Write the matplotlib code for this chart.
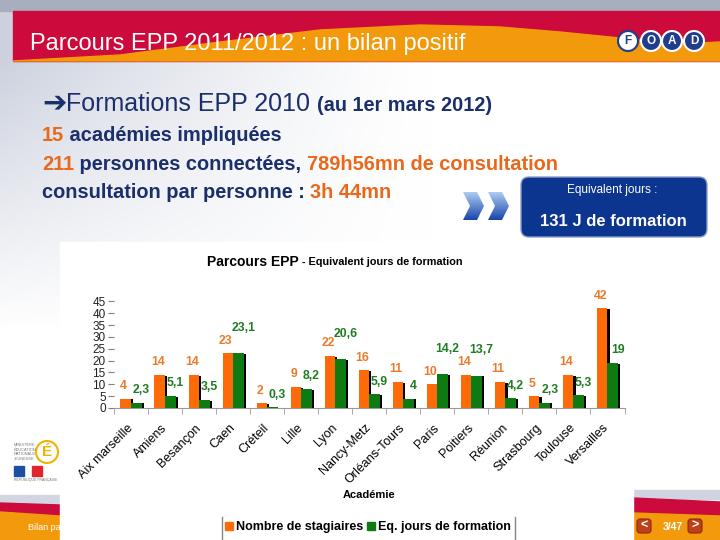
import matplotlib
matplotlib.use('Agg')
import matplotlib.pyplot as plt
import numpy as np
from matplotlib.patches import Rectangle, Polygon, FancyBboxPatch, Circle, Patch
from matplotlib.transforms import Bbox

# data
academies = ['Aix marseille', 'Amiens', 'Besançon', 'Caen', 'Créteil', 'Lille', 'Lyon',
             'Nancy-Metz', 'Orléans-Tours', 'Paris', 'Poitiers', 'Réunion', 'Strasbourg',
             'Toulouse', 'Versailles']
stagiaires = [4, 14, 14, 23, 2, 9, 22, 16, 11, 10, 14, 11, 5, 14, 42]
jours = [2.3, 5.1, 3.5, 23.1, 0.3, 8.2, 20.6, 5.9, 4, 14.2, 13.7, 4.2, 2.3, 5.3, 19]
y_ticks = [0, 5, 10, 15, 20, 25, 30, 35, 40, 45]
series_names = ['Nombre de stagiaires', 'Eq. jours de formation']

NAVY = '#1b2f6b'
ORANGE_TXT = '#e8681c'
BAR_ORANGE = '#ff6a08'
BAR_GREEN = '#0e7a12'
LBL_ORANGE = '#ec7a2a'
LBL_GREEN = '#1f7c21'
CRIMSON = '#cc0a3c'
BANNER_ORANGE = '#f39a0c'
LOGO_BLUE = '#1f3d8c'

plt.rcParams['font.family'] = ['Liberation Sans', 'DejaVu Sans']


def rich(ax, x, y, parts, **kw):
    # write coloured pieces of text one after the other on one line
    r = ax.figure.canvas.get_renderer()
    for s, color, size, weight in parts:
        t = ax.text(x, y, s, color=color, fontsize=size, fontweight=weight, **kw)
        x += t.get_window_extent(r).width


def fmt(v):
    return ('%g' % v).replace('.', ',')


def tight(ann, r):
    # box of the glyphs only, without the line spacing above and below
    bb = ann.get_window_extent(r)
    return Bbox.from_extents(bb.x0, bb.y0 + 2.5, bb.x1, bb.y1 - 2.5)


def main():
    fig = plt.figure(figsize=(7.2, 5.4), dpi=100)
    bg = fig.add_axes([0, 0, 1, 1])
    bg.set_xlim(0, 720)
    bg.set_ylim(540, 0)
    bg.axis('off')

    # slide background, greyish towards top left
    yy, xx = np.mgrid[0:540, 0:720]
    fade = np.clip((430 - xx) / 430, 0, 1) ** 1.3 * np.clip((330 - yy) / 270, 0, 1)
    gray = np.array([0.80, 0.82, 0.87])
    img = (1 - fade[..., None]) + gray * fade[..., None]
    bg.imshow(img, extent=(0, 720, 540, 0), aspect='auto', zorder=0)

    # header banner
    bg.add_patch(Rectangle((0, 0), 720, 11, color='#a9aebf', zorder=1))
    bg.add_patch(Rectangle((13, 11), 707, 50, color=CRIMSON, zorder=1))
    wave = [(13, 61), (120, 55), (220, 42), (320, 30), (420, 25), (500, 27), (560, 32),
            (620, 38), (680, 44), (720, 42), (720, 61)]
    bg.add_patch(Polygon(wave, closed=True, color=BANNER_ORANGE, zorder=1))
    bg.text(30, 44, 'Parcours EPP 2011/2012 : un bilan positif', color='white',
            fontsize=17, va='center', zorder=3)
    for k, (cx, letter) in enumerate(zip([628, 651, 672, 694], 'FOAD')):
        face, ink = ('white', LOGO_BLUE) if k == 0 else (LOGO_BLUE, 'white')
        bg.add_patch(Circle((cx, 41), 10, fc=face, ec=LOGO_BLUE if k == 0 else 'white', lw=1.5, zorder=3))
        bg.text(cx, 41.5, letter, color=ink, fontsize=8.5, fontweight='bold',
                ha='center', va='center', zorder=4)

    # text block
    rich(bg, 42, 111, [('➔', NAVY, 21, 'bold'), ('Formations EPP 2010 ', NAVY, 18, 'normal'),
                       ('(au 1er mars 2012)', NAVY, 14.3, 'bold')], zorder=3)
    rich(bg, 42, 141, [('15', ORANGE_TXT, 14.4, 'bold'), (' académies impliquées', NAVY, 14.4, 'bold')],
         zorder=3)
    rich(bg, 42, 170, [('211', ORANGE_TXT, 14.4, 'bold'), (' personnes connectées, ', NAVY, 14.4, 'bold'),
                       ('789h56mn de consultation', ORANGE_TXT, 14.4, 'bold')], zorder=3)
    rich(bg, 42, 198, [('consultation par personne : ', NAVY, 14.4, 'bold'),
                       ('3h 44mn', ORANGE_TXT, 14.4, 'bold')], zorder=3)

    # chevrons with a light to dark blue gradient
    grad = np.linspace(0, 1, 64)[:, None, None]
    chev_img = (1 - grad) * np.array([0.68, 0.80, 0.95]) + grad * np.array([0.10, 0.27, 0.66])
    chev_img = np.repeat(chev_img, 2, axis=1)
    for x0 in [463, 488]:
        pts = [(x0, 192), (x0 + 14, 192), (x0 + 21, 206), (x0 + 14, 220), (x0, 220), (x0 + 7, 206)]
        poly = Polygon(pts, closed=True, fc='none', ec='none', zorder=3)
        bg.add_patch(poly)
        im = bg.imshow(chev_img, extent=(x0, x0 + 22, 220, 192), aspect='auto', zorder=3)
        im.set_clip_path(poly)
    bg.set_xlim(0, 720)
    bg.set_ylim(540, 0)

    bg.add_patch(FancyBboxPatch((521, 177), 186, 60, boxstyle='round,pad=0,rounding_size=8',
                                fc='#0c3590', ec='#8a9cc8', lw=1, zorder=3))
    bg.text(612, 190, 'Equivalent jours :', color='white', fontsize=8.5, ha='center',
            va='center', zorder=4)
    bg.text(613, 221, '131 J de formation', color='white', fontsize=12, fontweight='bold',
            ha='center', va='center', zorder=4)

    # left logos
    bg.add_patch(Circle((47, 452), 11, fc='none', ec='#f0b400', lw=1.5, zorder=3))
    bg.text(47, 452, 'É', color='#f0b400', fontsize=11, fontweight='bold', ha='center',
            va='center', zorder=4)
    bg.text(14, 452, 'MINISTÈRE\nÉDUCATION\nNATIONALE\nJEUNESSE', color='#777777', fontsize=2.8,
            va='center', zorder=4, linespacing=1.2)
    bg.add_patch(Rectangle((14, 466), 10, 10, color='#1d4fa0', zorder=3))
    bg.add_patch(Rectangle((32, 466), 10, 10, color='#e0242c', zorder=3))
    bg.text(14, 481, 'RÉPUBLIQUE FRANÇAISE', color='#777777', fontsize=2.5, zorder=4)

    # footers
    bg.add_patch(Rectangle((0, 495), 60, 10, color='#d2d6e2', zorder=1))
    bg.add_patch(Polygon([(0, 503), (60, 505), (60, 516), (0, 512)], closed=True, color=CRIMSON, zorder=1))
    bg.add_patch(Polygon([(0, 512), (60, 516), (60, 540), (0, 540)], closed=True, color=BANNER_ORANGE, zorder=1))
    bg.text(28, 528, 'Bilan pa', color='white', fontsize=6.5, va='center', zorder=2)
    bg.add_patch(Rectangle((633, 490), 87, 9, color='#cfd4e0', zorder=1))
    bg.add_patch(Polygon([(633, 498), (720, 502), (720, 516), (633, 513)], closed=True, color=CRIMSON, zorder=1))
    bg.add_patch(Polygon([(633, 513), (720, 516), (720, 540), (633, 540)], closed=True, color=BANNER_ORANGE, zorder=1))
    for bx, s in [(637, '<'), (688, '>')]:
        bg.add_patch(FancyBboxPatch((bx, 519), 14, 14, boxstyle='round,pad=0,rounding_size=3',
                                    fc='#c0401a', ec='#8a2a10', lw=0.8, zorder=3))
        bg.text(bx + 7, 526, s, color='white', fontsize=9, fontweight='bold', ha='center',
                va='center', zorder=4)
    bg.text(673, 527, '3/47', color='white', fontsize=7.5, fontweight='bold', ha='center',
            va='center', zorder=4)

    # white chart panel
    bg.add_patch(Rectangle((60, 242), 573, 300, color='white', zorder=2))
    rich(bg, 207, 262, [('Parcours EPP', 'black', 10, 'bold'),
                        (' - Equivalent jours de formation', 'black', 7.8, 'bold')],
         va='center', zorder=3)
    bg.text(369, 495, 'Académie', color='black', fontsize=8, fontweight='bold', ha='center',
            va='center', zorder=3)

    # chart
    ax = fig.add_axes([114 / 720, 132 / 540, 510.5 / 720, 106.7 / 540], zorder=5)
    ax.patch.set_alpha(0)
    x = np.arange(len(academies))
    w = 0.31
    dx = 0.065
    st = np.array(stagiaires, dtype=float)
    jr = np.array(jours, dtype=float)
    ax.bar(x - w / 2 + dx, np.clip(st - 0.4, 0, None), w, color='black', zorder=1)
    ax.bar(x - w / 2, st, w, color=BAR_ORANGE, zorder=2)
    ax.bar(x + w / 2 + dx, np.clip(jr - 0.4, 0, None), w, color='black', zorder=3)
    ax.bar(x + w / 2, jr, w, color=BAR_GREEN, zorder=4)

    # orange labels first, green ones after so these get moved on a clash
    labels = []
    for i in range(len(academies)):
        labels.append(ax.annotate(fmt(st[i]), (x[i] - w / 2, st[i]), xytext=(-2, 12.5),
                                  textcoords='offset pixels', ha='center', va='center',
                                  color=LBL_ORANGE, fontsize=8.8, fontweight='bold',
                                  annotation_clip=False))
    for i in range(len(academies)):
        labels.append(ax.annotate(fmt(jr[i]), (x[i] + w / 2, jr[i]), xytext=(5, 12.5),
                                  textcoords='offset pixels', ha='center', va='center',
                                  color=LBL_GREEN, fontsize=8.8, fontweight='bold',
                                  annotation_clip=False))

    ax.set_xlim(-0.5, len(academies) - 0.5)
    ax.set_ylim(0, 45)
    ax.set_yticks(y_ticks)
    ax.set_xticks(x)
    ax.set_xticklabels(academies, rotation=45, ha='right', va='center', rotation_mode='anchor',
                       fontsize=9)
    ax.set_xticks(np.arange(len(academies) + 1) - 0.5, minor=True)
    ax.tick_params(axis='x', which='major', length=0, pad=13)
    ax.tick_params(axis='x', which='minor', length=4, color='#9a9a9a')
    ax.tick_params(axis='y', length=4, color='#7f7f7f', labelsize=8.5, pad=2, labelcolor='#222222')
    for side in ['left', 'top', 'right']:
        ax.spines[side].set_visible(False)
    ax.spines['bottom'].set_color('#9a9a9a')

    # push a value label up when it would sit on top of one already placed
    r = fig.canvas.get_renderer()
    placed = []
    for ann in labels:
        while any(tight(ann, r).overlaps(p) for p in placed):
            ox, oy = ann.xyann
            ann.xyann = (ox, oy + 13)
        placed.append(tight(ann, r))

    # legend box shows only its side edges, the rest is cut by the slide
    handles = [Patch(color=BAR_ORANGE), Patch(color=BAR_GREEN)]
    fig.legend(handles, series_names, loc='center', bbox_to_anchor=(368 / 720, 1 - 527 / 540),
               ncol=2, prop={'weight': 'bold', 'size': 9}, frameon=False,
               handlelength=0.6, handleheight=0.6, handletextpad=0.25,
               columnspacing=0.3, borderaxespad=0)
    bg.plot([222, 222], [517, 540], color='#888888', lw=1, zorder=3)
    bg.plot([515, 515], [517, 540], color='#888888', lw=1, zorder=3)

    fig.savefig('out.png', dpi=100)


if __name__ == '__main__':
    main()
